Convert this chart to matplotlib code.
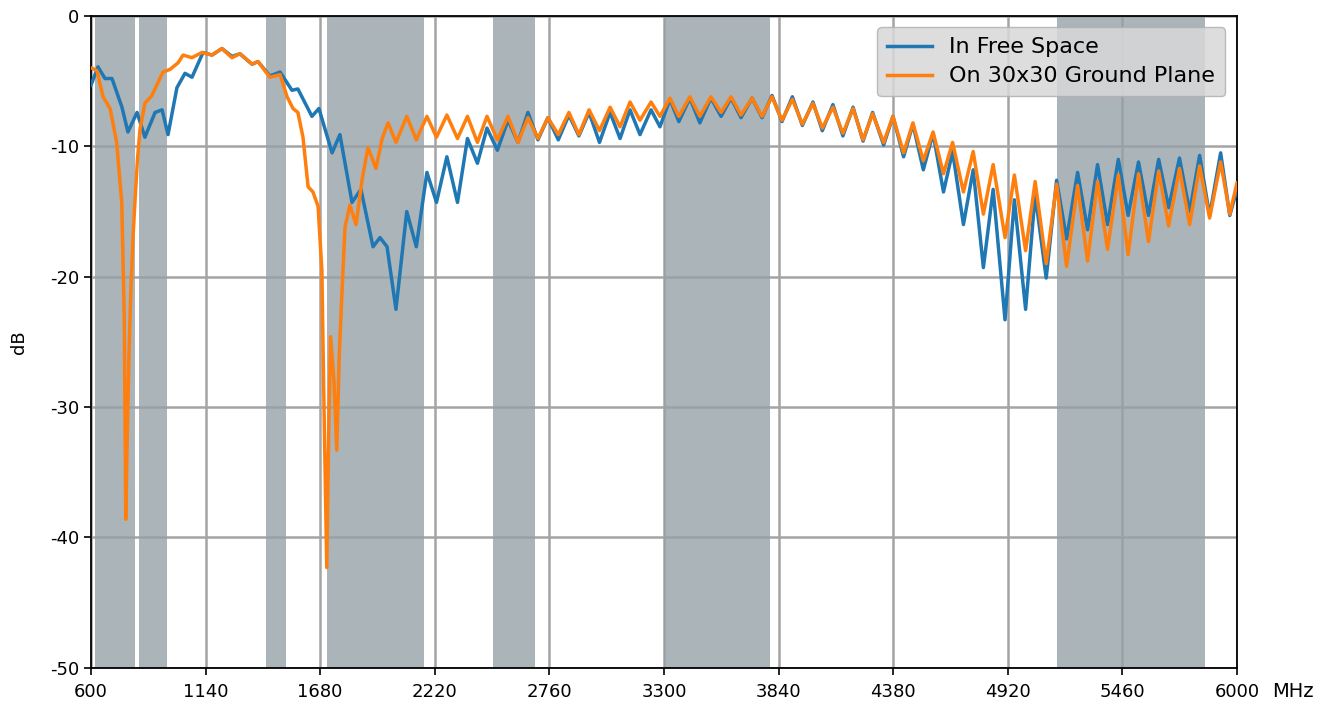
import matplotlib
matplotlib.use("Agg")
import matplotlib.pyplot as plt

plt.rcParams["axes.unicode_minus"] = False
plt.rcParams["font.family"] = "DejaVu Sans"

# Frequency bands highlighted in grey (MHz)
bands = [(617, 806), (824, 960), (1427, 1518), (1710, 2170),
         (2496, 2690), (3300, 3800), (5150, 5850)]

# Low band part, In Free Space (MHz, dB)
free_low_mhz = [600, 605, 633, 666, 699, 746, 774, 817, 854, 902, 935, 963,
                1005, 1043, 1076, 1128, 1170, 1217, 1264, 1302, 1359, 1387,
                1443, 1491, 1547, 1575, 1641, 1674, 1736, 1773, 1830, 1872,
                1929, 1962, 1995]
free_low_db = [-5.3, -5.1, -3.9, -4.8, -4.8, -7.0, -8.9, -7.4, -9.3, -7.4,
               -7.2, -9.1, -5.5, -4.4, -4.7, -2.8, -3.0, -2.5, -3.1, -2.9,
               -3.7, -3.5, -4.6, -4.3, -5.7, -5.6, -7.7, -7.1, -10.5, -9.1,
               -14.3, -13.3, -17.7, -17.0, -17.7]

# Low band part, On 30x30 Ground Plane (MHz, dB)
gnd_low_mhz = [600, 605, 628, 657, 690, 721, 745, 757, 760, 764, 770, 779,
               788, 798, 807, 819, 831, 854, 887, 916, 939, 972, 1010, 1034,
               1076, 1123, 1170, 1217, 1264, 1302, 1359, 1387, 1443, 1491,
               1524, 1552, 1575, 1599, 1623, 1646, 1670, 1688, 1698, 1711,
               1720, 1729, 1745, 1758, 1770, 1781, 1797, 1820, 1849, 1877,
               1905, 1943, 1972, 2000]
gnd_low_db = [-4.0, -4.0, -4.2, -6.2, -7.1, -9.7, -14.3, -23.3, -30.0, -38.6,
              -33.0, -26.0, -21.0, -17.0, -14.3, -11.0, -8.7, -6.7, -6.1,
              -5.1, -4.3, -4.1, -3.6, -3.0, -3.2, -2.8, -3.0, -2.5, -3.2,
              -2.9, -3.7, -3.5, -4.7, -4.5, -6.2, -7.1, -7.4, -9.3, -13.1,
              -13.5, -14.6, -19.5, -30.0, -42.3, -32.0, -24.6, -28.0, -33.3,
              -26.0, -21.8, -16.2, -14.5, -16.0, -12.6, -10.1, -11.7, -9.4,
              -8.2]

# Ripple part: shared peak / trough frequencies (MHz)
ripple_mhz = [2037, 2088, 2133, 2183, 2228, 2277, 2327, 2374, 2421, 2466,
              2515, 2565, 2612, 2659, 2706, 2753, 2802, 2852, 2899, 2947,
              2996, 3046, 3093, 3140, 3187, 3239, 3281, 3328, 3370, 3422,
              3469, 3521, 3569, 3616, 3663, 3715, 3762, 3809, 3856, 3905,
              3952, 4002, 4046, 4096, 4143, 4191, 4238, 4283, 4335, 4379,
              4429, 4473, 4522, 4568, 4617, 4660, 4711, 4757, 4805, 4851,
              4907, 4951, 5004, 5049, 5101, 5150, 5197, 5249, 5296, 5343,
              5390, 5441, 5487, 5536, 5583, 5631, 5678, 5729, 5777, 5824,
              5871, 5923, 5966, 6000]
free_ripple_db = [-22.5, -15.0, -17.7, -12.0, -14.3, -10.8, -14.3, -9.4,
                  -11.3, -8.6, -10.3, -8.0, -9.7, -7.4, -9.5, -7.8, -9.5,
                  -7.6, -9.2, -7.4, -9.7, -7.4, -9.4, -7.2, -9.1, -7.2, -8.5,
                  -6.4, -8.1, -6.3, -8.2, -6.3, -7.7, -6.3, -7.8, -6.3, -7.8,
                  -6.1, -8.1, -6.2, -8.4, -6.6, -8.8, -6.8, -9.2, -7.0, -9.6,
                  -7.4, -9.9, -7.7, -10.8, -8.3, -11.8, -9.0, -13.5, -10.4,
                  -16.0, -11.8, -19.3, -13.3, -23.3, -14.1, -22.5, -13.7,
                  -20.1, -12.6, -17.1, -12.0, -16.4, -11.4, -16.0, -11.0,
                  -15.3, -11.2, -15.3, -11.0, -14.7, -10.9, -15.0, -10.7,
                  -15.3, -10.5, -15.3, -13.3]
gnd_ripple_db = [-9.7, -7.7, -9.5, -7.7, -9.3, -7.6, -9.4, -7.7, -9.7, -7.7,
                 -9.5, -7.7, -9.7, -7.8, -9.4, -7.8, -9.1, -7.4, -9.1, -7.2,
                 -8.8, -7.0, -8.5, -6.6, -8.0, -6.6, -7.7, -6.3, -7.7, -6.2,
                 -7.7, -6.2, -7.4, -6.2, -7.6, -6.3, -7.7, -6.2, -8.0, -6.4,
                 -8.3, -6.7, -8.6, -7.0, -9.0, -7.1, -9.5, -7.5, -9.7, -7.7,
                 -10.5, -8.2, -11.1, -8.9, -12.1, -9.7, -13.5, -10.4, -15.2,
                 -11.4, -17.0, -12.2, -18.0, -12.7, -19.0, -12.9, -19.2,
                 -13.0, -18.8, -12.7, -17.9, -12.2, -18.3, -12.1, -17.3,
                 -11.9, -16.1, -11.7, -16.0, -11.5, -15.5, -11.2, -15.2,
                 -12.8]

xticks = [600, 1140, 1680, 2220, 2760, 3300, 3840, 4380, 4920, 5460, 6000]
yticks = [0, -10, -20, -30, -40, -50]

free_mhz = free_low_mhz + ripple_mhz
free_db = free_low_db + free_ripple_db
gnd_mhz = gnd_low_mhz + ripple_mhz
gnd_db = gnd_low_db + gnd_ripple_db

fig = plt.figure(figsize=(13.38, 7.09), dpi=100)
ax = fig.add_axes([0.068, 0.058, 0.8565, 0.9195])

ax.grid(True, color="#a4a4a4", linewidth=1.8, zorder=0)
ax.set_axisbelow(True)

# grey bands sit over the grid, lines sit over the bands
for lo, hi in bands:
    ax.axvspan(lo, hi, color=(0.59, 0.63, 0.65), alpha=0.8, linewidth=0, zorder=1)

ax.plot(free_mhz, free_db, color="#1f77b4", linewidth=2.5,
        solid_joinstyle="round", label="In Free Space", zorder=3)
ax.plot(gnd_mhz, gnd_db, color="#ff7f0e", linewidth=2.5,
        solid_joinstyle="round", label="On 30x30 Ground Plane", zorder=4)

ax.set_xlim(600, 6000)
ax.set_ylim(-50, 0)
ax.set_xticks(xticks)
ax.set_yticks(yticks)
ax.set_yticklabels([str(v) for v in yticks])
ax.tick_params(labelsize=13, length=5, width=1.2)
ax.tick_params(axis="x", pad=6)
ax.set_ylabel("dB", fontsize=13)
ax.yaxis.set_label_coords(-0.055, 0.5)
ax.text(1.0305, -0.037, "MHz", transform=ax.transAxes, ha="left", va="center",
        fontsize=14)
for sp in ax.spines.values():
    sp.set_linewidth(1.3)

leg = ax.legend(loc="upper right", fontsize=16, facecolor="#d8d8d8",
                framealpha=0.85, edgecolor="#b0b0b0", borderpad=0.45,
                handlelength=2.0, labelspacing=0.4,
                bbox_to_anchor=(0.9995, 0.9995))
leg.set_zorder(5)

fig.savefig("out.png", dpi=100)
